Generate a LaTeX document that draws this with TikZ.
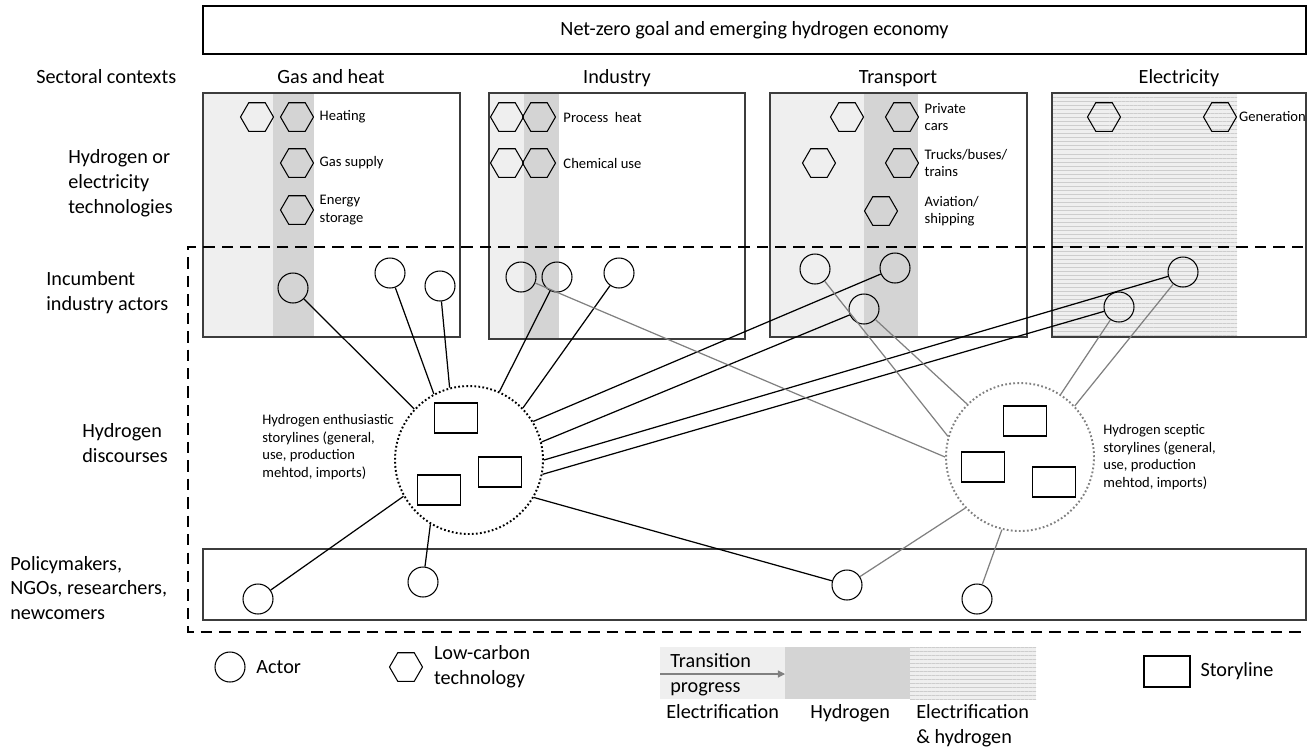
\documentclass[tikz,border=0pt]{standalone}
\usepackage{fontspec}
\setmainfont{Carlito}
\usetikzlibrary{shapes.geometric, arrows.meta, positioning, patterns.meta}
\definecolor{elecgray}{RGB}{239,239,239}
\definecolor{hydgray}{RGB}{212,212,212}
\definecolor{stripegray}{RGB}{205,205,205}
\definecolor{framegray}{RGB}{60,60,60}
\newcommand{\biglbl}{\fontsize{11.5}{14.2}\selectfont}
\newcommand{\smalllbl}{\fontsize{8.3}{10}\selectfont}

\begin{document}
\begin{tikzpicture}[x=0.02cm, y=-0.02cm,
  techhex/.style={draw, regular polygon, regular polygon sides=6, minimum size=0.66cm, inner sep=0pt, line width=0.6pt},
  actor/.style={draw, circle, minimum size=0.6cm, inner sep=0pt, line width=0.6pt},
  storyline/.style={draw, minimum width=0.86cm, minimum height=0.6cm, inner sep=0pt, line width=0.7pt},
  discourse/.style={draw, circle, minimum size=2.96cm, inner sep=0pt, line width=1.1pt, dash pattern=on 1pt off 1.3pt},
  sectorbox/.style={draw=framegray, line width=0.7pt},
  techlabel/.style={font=\smalllbl, align=left, inner sep=1pt},
  rowlabel/.style={font=\biglbl, align=left, anchor=west, inner sep=0pt},
  stripes/.style={fill=elecgray, postaction={pattern={Lines[angle=0, distance=2.3pt, line width=0.45pt]}, pattern color=stripegray}},
  prolink/.style={line width=0.7pt},
  contralink/.style={line width=0.7pt, gray},
]
\useasboundingbox (0,0) rectangle (1309,752);

% top frame
\node[draw, line width=0.7pt, minimum width=22.06cm, minimum height=0.96cm, font=\biglbl] (goal) at (754.5,30) {Net-zero goal and emerging hydrogen economy};

% sector strips
\fill[elecgray] (203,93) rectangle (273,337);
\fill[hydgray] (273,93) rectangle (314,337);
\fill[elecgray] (489,93) rectangle (524,339);
\fill[hydgray] (524,93) rectangle (559,339);
\fill[elecgray] (770,93) rectangle (864,337);
\fill[hydgray] (864,93) rectangle (918,337);
\path[stripes] (1052,93) rectangle (1237,337);

% sector boxes
\draw[sectorbox] (203,93) rectangle (460,337);
\draw[sectorbox] (489,93) rectangle (745,339);
\draw[sectorbox] (770,93) rectangle (1027,337);
\draw[sectorbox] (1052,93) rectangle (1306,337);
\draw[sectorbox] (203,549) rectangle (1306,620);

\node[font=\biglbl, anchor=base] at (331,83) {Gas and heat};
\node[font=\biglbl, anchor=base] at (617,83) {Industry};
\node[font=\biglbl, anchor=base] at (898,83) {Transport};
\node[font=\biglbl, anchor=base] at (1179,83) {Electricity};

% row labels
\node[rowlabel, anchor=base west] at (36,83) {Sectoral contexts};
\node[rowlabel] at (68,183) {Hydrogen or\\electricity\\technologies};
\node[rowlabel] at (46,293) {Incumbent\\industry actors};
\node[rowlabel] at (82,443) {Hydrogen\\discourses};
\node[rowlabel] at (10,588) {Policymakers,\\NGOs, researchers,\\newcomers};

% technologies
\node[techhex] (gh1) at (257,117) {};
\node[techhex] (gh2) at (297,117) {};
\node[techhex] (gh3) at (297,163) {};
\node[techhex] (gh4) at (297,210) {};
\node[techlabel, right=2pt of gh2] {Heating};
\node[techlabel, right=2pt of gh3] {Gas supply};
\node[techlabel, right=2pt of gh4] {Energy\\storage};

\node[techhex] (ih1) at (507,117) {};
\node[techhex] (ih2) at (539,117) {};
\node[techhex] (ih3) at (507,163) {};
\node[techhex] (ih4) at (539,163) {};
\node[techlabel, right=3pt of ih2] {Process~ heat};
\node[techlabel, right=3pt of ih4] {Chemical use};

\node[techhex] (th1) at (847,117) {};
\node[techhex] (th2) at (902,117) {};
\node[techhex] (th3) at (819,163) {};
\node[techhex] (th4) at (902,163) {};
\node[techhex] (th5) at (881,211) {};
\node[techlabel, right=2pt of th2] {Private\\cars};
\node[techlabel, right=2pt of th4] {Trucks/buses/\\trains};
\node[techlabel, anchor=west, xshift=2pt] at (th4.east |- th5) {Aviation/\\shipping};

\node[techhex] (eh1) at (1104,117) {};
\node[techhex] (eh2) at (1220,117) {};
\node[techlabel, right=0pt of eh2] {Generation};

% incumbent / policy boundary
\draw[line width=1.4pt, dash pattern=on 6.5pt off 4pt] (1303,247) -- (188,247) -- (188,632) -- (1303,632);

% actors
\node[actor] (gas1) at (293,288) {};
\node[actor] (gas2) at (390,273) {};
\node[actor] (gas3) at (440,286) {};
\node[actor] (ind1) at (521,277) {};
\node[actor] (ind2) at (557,277) {};
\node[actor] (ind3) at (619,273) {};
\node[actor] (tra1) at (815,269) {};
\node[actor] (tra2) at (895,268) {};
\node[actor] (tra3) at (864,309) {};
\node[actor] (ele1) at (1183,272) {};
\node[actor] (ele2) at (1119,307) {};
\node[actor] (pol1) at (258,599) {};
\node[actor] (pol2) at (423,582) {};
\node[actor] (pol3) at (847,585) {};
\node[actor] (pol4) at (977,599) {};

% discourses
\node[discourse] (enth) at (469,460) {};
\node[discourse, draw=gray] (scep) at (1020,457) {};
\node[storyline] (ens1) at (456,418) {};
\node[storyline] (ens2) at (500,472) {};
\node[storyline] (ens3) at (439,490) {};
\node[storyline] (scs1) at (1025,421) {};
\node[storyline] (scs2) at (983,467) {};
\node[storyline] (scs3) at (1054,482) {};
\node[techlabel, anchor=west, inner sep=0pt] at (262,447) {Hydrogen enthusiastic\\storylines (general,\\use, production\\mehtod, imports)};
\node[techlabel, anchor=west, inner sep=0pt] at (1103,457) {Hydrogen sceptic\\storylines (general,\\use, production\\mehtod, imports)};

% links
\draw[prolink] (gas1) -- (enth.137);
\draw[prolink] (gas2) -- (enth.118);
\draw[prolink] (gas3) -- (enth.105);
\draw[prolink] (ind2) -- (enth.66);
\draw[prolink] (ind3) -- (enth.44);
\draw[prolink] (tra2) -- (enth.31);
\draw[prolink] (tra3) -- (enth.14);
\draw[prolink] (ele1) -- (enth.0);
\draw[prolink] (ele2) -- (enth.-11);
\draw[prolink] (enth.209) -- (pol1);
\draw[prolink] (enth.239) -- (pol2);
\draw[prolink] (enth.330) -- (pol3);
\draw[contralink] (ind1) -- (scep.180);
\draw[contralink] (tra1) -- (scep.164);
\draw[contralink] (tra3) -- (scep.135);
\draw[contralink] (ele2) -- (scep.57);
\draw[contralink] (ele1) -- (scep.43);
\draw[contralink] (scep.223) -- (pol3);
\draw[contralink] (scep.256) -- (pol4);

% legend
\node[actor] (keyactor) at (230,667) {};
\node[rowlabel, right=6pt of keyactor] {Actor};
\node[techhex] (keytech) at (406,667) {};
\node[rowlabel, right=6pt of keytech] {Low-carbon\\technology};
\fill[elecgray] (660,647) rectangle (785,699);
\fill[hydgray] (785,647) rectangle (910,699);
\path[stripes] (910,647) rectangle (1036,699);
\coordinate (progstart) at (660,674);
\coordinate (progend) at (785,674);
\draw[gray, line width=0.6pt, -{Triangle[length=4pt, width=4pt]}] (progstart) -- (progend);
\node[rowlabel] at (670,675) {Transition\\progress};
\node[rowlabel, anchor=base west] at (666,718) {Electrification};
\node[rowlabel, anchor=base west] at (810,718) {Hydrogen};
\node[rowlabel] at (916,726) {Electrification\\\& hydrogen};
\node[storyline, minimum width=0.92cm, minimum height=0.62cm] (keystory) at (1167,671.5) {};
\node[rowlabel, right=5.5pt of keystory] {Storyline};
\end{tikzpicture}
\end{document}
